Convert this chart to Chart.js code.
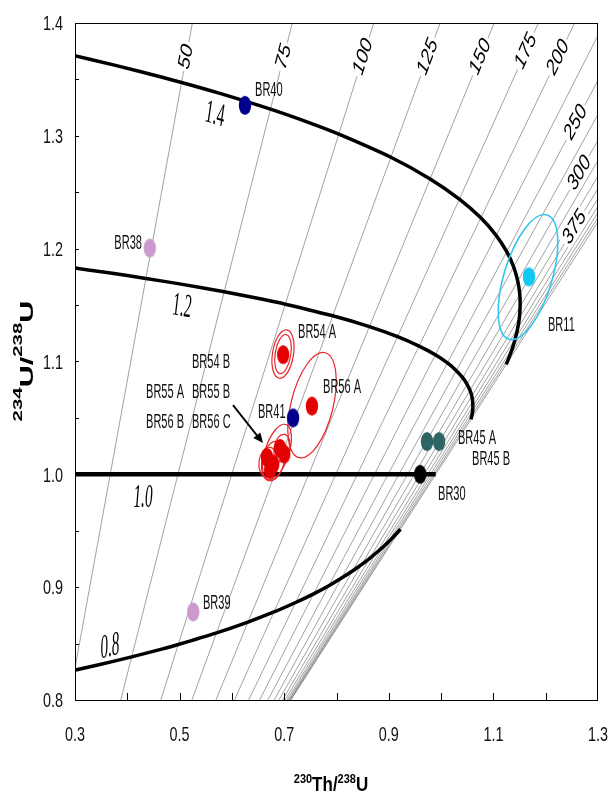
<!DOCTYPE html>
<html>
<head>
<meta charset="utf-8">
<script src="https://cdn.jsdelivr.net/npm/chart.js@4.4.0/dist/chart.umd.min.js"></script>
<style>
  html, body { margin: 0; padding: 0; background: #fff; }
</style>
</head>
<body>
<canvas id="grafico" width="610" height="798"></canvas>
<script>
const edadesIso = [50, 75, 100, 125, 150, 175, 200, 225, 250, 275, 300, 325, 350, 375, 400, 425, 450, 475, 500];
const isoTh08 = [0.2889, 0.3875, 0.4641, 0.5235, 0.5695, 0.6049, 0.6321, 0.6529, 0.6688, 0.6809, 0.6899, 0.6967, 0.7017, 0.7054, 0.7081, 0.7099, 0.7112, 0.7121, 0.7127];
const isoTh14 = [0.5244, 0.7155, 0.8712, 0.9981, 1.1016, 1.1861, 1.2553, 1.3120, 1.3584, 1.3965, 1.4279, 1.4537, 1.4749, 1.4925, 1.5069, 1.5189, 1.5288, 1.5371, 1.5439];
const isoU = [0.8, 1.4];

// Curvas de evolucion (234U/238U inicial 1.4, 1.2, 1.0, 0.8)
const curva14Th = [0, 0.1220, 0.2324, 0.3322, 0.4223, 0.5037, 0.5771, 0.6738, 0.7563, 0.8044, 0.9039, 0.9790, 1.0349, 1.0759, 1.1052, 1.1255, 1.1387, 1.1466, 1.1504, 1.1511, 1.1496, 1.1463, 1.1418, 1.1366, 1.1307, 1.1246];
const curva14U = [1.4, 1.3889, 1.3780, 1.3675, 1.3572, 1.3473, 1.3376, 1.3236, 1.3102, 1.3015, 1.2810, 1.2618, 1.2439, 1.2273, 1.2118, 1.1973, 1.1839, 1.1713, 1.1596, 1.1488, 1.1386, 1.1291, 1.1203, 1.1121, 1.1045, 1.0974];
const curva12Th = [0, 0.1048, 0.1999, 0.2862, 0.3645, 0.4355, 0.4999, 0.5853, 0.6588, 0.7021, 0.7928, 0.8629, 0.9168, 0.9579, 0.9889, 1.0121, 1.0291, 1.0413, 1.0497, 1.0553, 1.0587, 1.0603, 1.0607, 1.0602, 1.0589, 1.0572];
const curva12U = [1.2, 1.1944, 1.1890, 1.1837, 1.1786, 1.1736, 1.1688, 1.1618, 1.1551, 1.1508, 1.1405, 1.1309, 1.1220, 1.1136, 1.1059, 1.0987, 1.0919, 1.0857, 1.0798, 1.0744, 1.0693, 1.0646, 1.0602, 1.0561, 1.0522, 1.0487];
const curva10Th = [0, 0.9897];
const curva10U = [1.0, 1.0];
const curva08Th = [0, 0.0703, 0.1348, 0.1943, 0.2489, 0.2992, 0.3456, 0.4084, 0.4640, 0.4975, 0.5706, 0.6307, 0.6805, 0.7218, 0.7563, 0.7853, 0.8097, 0.8305, 0.8483, 0.8636, 0.8768, 0.8884, 0.8985, 0.9074, 0.9153, 0.9223];
const curva08U = [0.8, 0.8056, 0.8110, 0.8163, 0.8214, 0.8264, 0.8312, 0.8382, 0.8449, 0.8492, 0.8595, 0.8691, 0.8780, 0.8864, 0.8941, 0.9013, 0.9081, 0.9143, 0.9202, 0.9256, 0.9307, 0.9354, 0.9398, 0.9439, 0.9478, 0.9513];

// Muestras
const muestras = ['BR40', 'BR38', 'BR54 A', 'BR56 A', 'BR41', 'BR54 B', 'BR55 A', 'BR55 B', 'BR56 B', 'BR56 C', 'BR45 A', 'BR45 B', 'BR30', 'BR39', 'BR11'];
const muestrasTh = [0.625, 0.443, 0.698, 0.753, 0.717, 0.667, 0.679, 0.692, 0.700, 0.673, 0.973, 0.996, 0.960, 0.526, 1.168];
const muestrasU = [1.327, 1.2005, 1.106, 1.0605, 1.050, 1.015, 1.009, 1.023, 1.018, 1.004, 1.029, 1.029, 1.000, 0.878, 1.175];
const grupoMuestra = ['azul', 'lila', 'rojo', 'rojo', 'azul', 'rojo', 'rojo', 'rojo', 'rojo', 'rojo', 'verde', 'verde', 'negro', 'lila', 'cian'];

// Elipses de error: centro Th, centro U, semieje Th, semieje U, giro (grados)
const elipses = [
  [1.1662, 1.1748, 0.0459, 0.0576, 17, 'cian'],
  [0.7532, 1.0613, 0.0402, 0.0479, 14, 'rojo'],
  [0.6977, 1.1066, 0.0201, 0.0217, 9, 'rojo'],
  [0.6977, 1.1066, 0.0150, 0.0175, 9, 'rojo'],
  [0.6862, 1.0197, 0.0229, 0.0257, 18, 'rojo'],
  [0.6786, 1.0117, 0.0210, 0.0177, 12, 'rojo'],
  [0.6690, 1.0108, 0.0172, 0.0133, 8, 'rojo'],
  [0.6958, 1.0232, 0.0153, 0.0124, 10, 'rojo']
];

// Textos
const etiquetasX = ['0.3', '0.5', '0.7', '0.9', '1.1', '1.3'];
const etiquetasY = ['0.8', '0.9', '1.0', '1.1', '1.2', '1.3', '1.4'];
const edadesRotuladas = [50, 75, 100, 125, 150, 175, 200, 250, 300, 375];
const rotuloIsoTh = [0.5126, 0.6991, 0.8508, 0.9743, 1.0750, 1.1619, 1.2236, 1.2573, 1.2643, 1.2550];
const rotuloIsoU = [1.370, 1.370, 1.370, 1.370, 1.370, 1.375, 1.3695, 1.312, 1.267, 1.219];
const rotulosCurva = ['1.4', '1.2', '1.0', '0.8'];
const rotuloCurvaTh = [0.5677, 0.5046, 0.4300, 0.3669];
const rotuloCurvaU = [1.3184, 1.1482, 0.9789, 0.8468];
const rotuloMuestraTh = [0.6442, 0.4281, 0.7264, 0.7742, 0.6499, 0.5237, 0.4358, 0.5237, 0.4358, 0.5237, 1.0323, 1.0591, 0.9941, 0.5447, 1.2044];
const rotuloMuestraU = [1.3406, 1.2050, 1.1261, 1.0773, 1.0551, 1.0995, 1.0729, 1.0729, 1.0463, 1.0463, 1.0321, 1.0135, 0.9824, 0.8858, 1.1323];

const colores = { azul: '#00008b', lila: '#cc99cc', rojo: '#e30000', verde: '#2f6464', negro: '#000000', cian: '#10c8f4' };
const coloresElipse = { rojo: '#e8252b', cian: '#35c6f0' };
const SANS = '"Liberation Sans", Arial, sans-serif';
const SERIF = '"Liberation Serif", "Times New Roman", serif';

// Marcador ovalado (la figura original esta estirada en vertical)
function marcador(color) {
  const c = document.createElement('canvas');
  c.width = 14; c.height = 21;
  const g = c.getContext('2d');
  g.fillStyle = color;
  g.beginPath();
  g.ellipse(7, 10.5, 6.2, 9.6, 0, 0, 2 * Math.PI);
  g.fill();
  return c;
}

// order: mayor valor se dibuja primero (queda debajo)
const datasets = [];
edadesIso.forEach((e, i) => {
  datasets.push({
    data: [{ x: isoTh08[i], y: isoU[0] }, { x: isoTh14[i], y: isoU[1] }],
    showLine: true, borderColor: '#8a8a8a', borderWidth: 0.8, pointRadius: 0, fill: false, order: 3
  });
});
[[curva14Th, curva14U, 3.5], [curva12Th, curva12U, 3.5], [curva10Th, curva10U, 4.5], [curva08Th, curva08U, 3.5]].forEach(c => {
  datasets.push({
    data: c[0].map((v, i) => ({ x: v, y: c[1][i] })),
    showLine: true, borderColor: '#000', borderWidth: c[2], pointRadius: 0, tension: 0.3, fill: false, order: 2
  });
});
const imagenes = {};
Object.keys(colores).forEach(k => imagenes[k] = marcador(colores[k]));
muestras.forEach((m, i) => {
  datasets.push({
    data: [{ x: muestrasTh[i], y: muestrasU[i] }],
    showLine: false, pointStyle: imagenes[grupoMuestra[i]], pointRadius: 7, order: 1
  });
});
const ultimoPunto = datasets.length - 1; // primer punto que se dibuja

function texto(ctx, t, x, y, o) {
  ctx.save();
  ctx.translate(x, y);
  ctx.scale(o.sx || 1, o.sy || 1);
  if (o.rot) ctx.rotate(o.rot);
  ctx.font = o.font;
  ctx.textAlign = o.align || 'left';
  ctx.textBaseline = o.base || 'middle';
  if (o.fondo) {
    const w = ctx.measureText(t).width;
    ctx.fillStyle = '#fff';
    ctx.fillRect(-w / 2 - 2, -o.alto / 2 - 1, w + 4, o.alto + 2);
  }
  ctx.fillStyle = o.color || '#000';
  ctx.fillText(t, 0, 0);
  ctx.restore();
}

function textoCompuesto(ctx, partes, x, y, rot, sx, sy) {
  ctx.save();
  ctx.translate(x, y);
  ctx.scale(sx, sy);
  if (rot) ctx.rotate(rot);
  ctx.textBaseline = 'alphabetic';
  ctx.textAlign = 'left';
  ctx.fillStyle = '#000';
  let total = 0;
  partes.forEach(p => { ctx.font = p[1]; total += ctx.measureText(p[0]).width; });
  let pos = -total / 2;
  partes.forEach(p => {
    ctx.font = p[1];
    ctx.fillText(p[0], pos, -p[2]);
    pos += ctx.measureText(p[0]).width;
  });
  ctx.restore();
}

const decoracion = {
  id: 'decoracion',
  beforeDatasetDraw(chart, args) {
    if (args.index !== ultimoPunto) return;
    const ctx = chart.ctx, xs = chart.scales.x, ys = chart.scales.y, a = chart.chartArea;
    ctx.save();
    ctx.beginPath(); ctx.rect(a.left, a.top, a.right - a.left, a.bottom - a.top); ctx.clip();
    elipses.forEach(e => {
      const px = xs.getPixelForValue(e[0]), py = ys.getPixelForValue(e[1]);
      const rx = Math.abs(xs.getPixelForValue(e[0] + e[2]) - px);
      const ry = Math.abs(ys.getPixelForValue(e[1] + e[3]) - py);
      ctx.beginPath();
      ctx.ellipse(px, py, rx, ry, e[4] * Math.PI / 180, 0, 2 * Math.PI);
      ctx.strokeStyle = coloresElipse[e[5]];
      ctx.lineWidth = e[5] === 'cian' ? 1.6 : 1.2;
      ctx.stroke();
    });
    ctx.restore();
  },
  afterDatasetsDraw(chart) {
    const ctx = chart.ctx, xs = chart.scales.x, ys = chart.scales.y;
    // rotulos de isocronas
    edadesRotuladas.forEach((e, i) => {
      const k = edadesIso.indexOf(e);
      const dx = xs.getPixelForValue(isoTh14[k]) - xs.getPixelForValue(isoTh08[k]);
      const dy = ys.getPixelForValue(isoU[1]) - ys.getPixelForValue(isoU[0]);
      const sy = 1.3;
      texto(ctx, String(e), xs.getPixelForValue(rotuloIsoTh[i]), ys.getPixelForValue(rotuloIsoU[i]), {
        font: 'italic 17px ' + SANS, align: 'center', sy: sy, rot: Math.atan2(dy / sy, dx), fondo: true, alto: 13
      });
    });
    // rotulos de curvas
    const giros = [8, 4.5, 0, -7];
    rotulosCurva.forEach((t, i) => {
      texto(ctx, t, xs.getPixelForValue(rotuloCurvaTh[i]), ys.getPixelForValue(rotuloCurvaU[i]), {
        font: 'italic 16px ' + SERIF, align: 'center', sx: 0.95, sy: 2.1, rot: giros[i] * Math.PI / 180
      });
    });
    // rotulos de muestras
    muestras.forEach((m, i) => {
      texto(ctx, m, xs.getPixelForValue(rotuloMuestraTh[i]), ys.getPixelForValue(rotuloMuestraU[i]), {
        font: '13px ' + SANS, align: m === 'BR38' ? 'right' : 'left', sx: 0.85, sy: 1.6, color: '#111'
      });
    });
    // flecha hacia el grupo de muestras
    const x1 = xs.getPixelForValue(0.6021), y1 = ys.getPixelForValue(1.0613);
    const x2 = xs.getPixelForValue(0.6595), y2 = ys.getPixelForValue(1.0277);
    const ang = Math.atan2(y2 - y1, x2 - x1);
    ctx.save();
    ctx.strokeStyle = '#000'; ctx.fillStyle = '#000'; ctx.lineWidth = 1.8;
    ctx.beginPath(); ctx.moveTo(x1, y1); ctx.lineTo(x2 - 6 * Math.cos(ang), y2 - 6 * Math.sin(ang)); ctx.stroke();
    ctx.beginPath();
    ctx.moveTo(x2, y2);
    ctx.lineTo(x2 - 10 * Math.cos(ang) + 4.5 * Math.sin(ang), y2 - 10 * Math.sin(ang) - 4.5 * Math.cos(ang));
    ctx.lineTo(x2 - 10 * Math.cos(ang) - 4.5 * Math.sin(ang), y2 - 10 * Math.sin(ang) + 4.5 * Math.cos(ang));
    ctx.closePath(); ctx.fill();
    ctx.restore();
  },
  afterDraw(chart) {
    const ctx = chart.ctx, xs = chart.scales.x, ys = chart.scales.y, a = chart.chartArea;
    ctx.save();
    ctx.strokeStyle = '#000'; ctx.lineWidth = 1;
    ctx.strokeRect(a.left + 0.5, a.top + 0.5, a.right - a.left - 1, a.bottom - a.top);
    ctx.beginPath();
    for (let i = 1; i < 10; i++) {
      const px = Math.round(xs.getPixelForValue(0.3 + i * 0.1)) + 0.5;
      ctx.moveTo(px, a.bottom); ctx.lineTo(px, a.bottom - 7);
    }
    for (let i = 1; i < 12; i++) {
      const py = Math.round(ys.getPixelForValue(0.8 + i * 0.05)) + 0.5;
      ctx.moveTo(a.left, py); ctx.lineTo(a.left + 4, py);
    }
    ctx.stroke();
    ctx.restore();
    etiquetasX.forEach(t => {
      texto(ctx, t, xs.getPixelForValue(parseFloat(t)), a.bottom + 35, { font: '15px ' + SANS, align: 'center', sx: 0.96, sy: 1.4, color: '#111' });
    });
    etiquetasY.forEach(t => {
      texto(ctx, t, a.left - 12, ys.getPixelForValue(parseFloat(t)) + 1.5, { font: '15px ' + SANS, align: 'right', sx: 0.96, sy: 1.4, color: '#111' });
    });
    textoCompuesto(ctx, [
      ['230', 'bold 11px ' + SANS, 6.5], ['Th/', 'bold 17px ' + SANS, 0],
      ['238', 'bold 11px ' + SANS, 6.5], ['U', 'bold 17px ' + SANS, 0]
    ], 331, 791, 0, 1, 1.23);
    textoCompuesto(ctx, [
      ['234', 'bold 12px ' + SANS, 11], ['U/', 'bold 18px ' + SANS, 0],
      ['238', 'bold 12px ' + SANS, 11], ['U', 'bold 18px ' + SANS, 0]
    ], 33, 361, -Math.PI / 2, 1, 1.7);
  }
};

new Chart(document.getElementById('grafico').getContext('2d'), {
  type: 'scatter',
  data: { datasets: datasets },
  options: {
    responsive: false,
    animation: false,
    devicePixelRatio: 1,
    layout: { padding: { top: 23, right: 12, left: 0, bottom: 0 } },
    plugins: { legend: { display: false }, tooltip: { enabled: false } },
    scales: {
      x: {
        type: 'linear', min: 0.3, max: 1.3,
        ticks: { display: false, stepSize: 0.1 },
        grid: { display: false }, border: { display: false },
        afterFit(s) { s.height = 98; }
      },
      y: {
        type: 'linear', min: 0.8, max: 1.4,
        ticks: { display: false, stepSize: 0.05 },
        grid: { display: false }, border: { display: false },
        afterFit(s) { s.width = 75; }
      }
    }
  },
  plugins: [decoracion]
});
</script>
</body>
</html>
